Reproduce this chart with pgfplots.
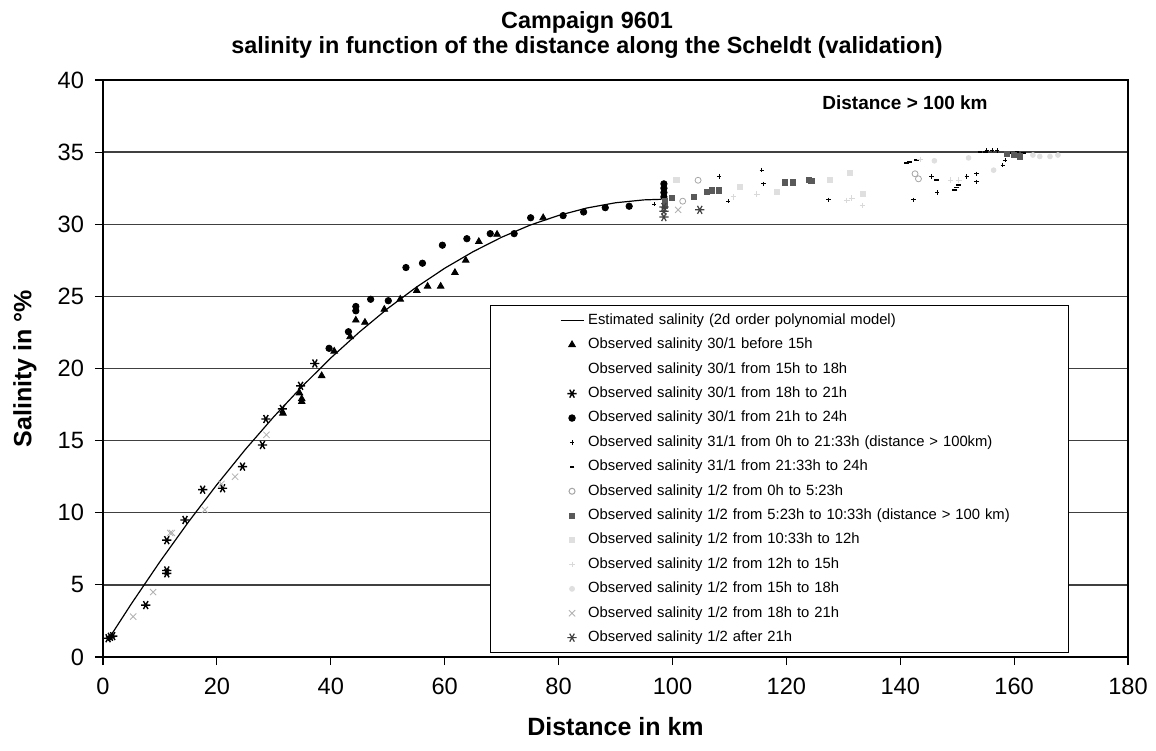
\documentclass[border=0pt]{standalone}
\usepackage{fontspec}
\setmainfont{Liberation Sans}
\usepackage{pgfplots}
\pgfplotsset{compat=1.18}
\pgfplotsset{
  lineleg/.style={legend image code/.code={\path[draw=none, fill=none] (-23pt,0pt) -- (0pt,0pt);
    \draw[##1] (0pt,0pt) -- (11.5pt,0pt);}},
  markleg/.style={legend image code/.code={\path[draw=none, fill=none] (-23pt,0pt) -- (11.5pt,0pt);
    \draw[##1] plot[only marks] coordinates {(5.75pt,0pt)};}},
}
\begin{document}
\begin{tikzpicture}
\useasboundingbox (0pt,0pt) rectangle (578pt,-375pt);
\begin{axis}[
  at={(51.5pt,-328.5pt)}, anchor=south west,
  scale only axis, width=512.5pt, height=288.5pt,
  xmin=0, xmax=180, ymin=0, ymax=40,
  xtick={0,20,...,180}, ytick={0,5,...,40},
  tick align=outside, major tick length=4pt,
  xtick pos=left, ytick pos=left,
  ymajorgrids, grid style={black!75, line width=0.7pt},
  axis line style={black, line width=0.6pt},
  tick style={black, line width=0.6pt},
  /pgf/number format/assume math mode=true,
  tick label style={font=\fontsize{11.8}{12}\selectfont},
  xticklabel style={yshift=-3pt},
  yticklabel style={xshift=-2pt},
  xlabel={Distance in km},
  ylabel={Salinity in °\%},
  every axis x label/.style={at={(axis description cs:0.5,-0.1213)}, anchor=center,
    font=\bfseries\fontsize{12.5}{14}\selectfont},
  every axis y label/.style={at={(axis description cs:-0.0761,0.5)}, rotate=90, anchor=center,
    font=\bfseries\fontsize{12.5}{14}\selectfont},
  legend style={at={(0.3776,0.610)}, anchor=north west, draw=black, line width=0.5pt,
    font=\fontsize{7.4}{8}\selectfont, inner xsep=12pt, inner ysep=3.4pt, row sep=4.1pt,
    nodes={text width=226pt, align=left, inner xsep=2pt, inner ysep=0.5pt, text height=5.5pt, text depth=1.6pt}},
  legend cell align=left,
  markleg,
]
% fitted curve
\addplot[black, line width=0.6pt, mark=none, lineleg] coordinates {
(1,1.26) (5,3.70) (10,6.61) (15,9.36) (20,11.95) (25,14.39) (30,16.66) (35,18.77)
(40,20.73) (45,22.52) (50,24.16) (55,25.63) (60,26.95) (65,28.10) (70,29.10)
(75,29.94) (80,30.61) (85,31.13) (90,31.49) (95,31.69) (98,31.73)
};
\addlegendentry{Estimated salinity (2d order polynomial model)}
% 30/1 before 15h
\addplot[only marks, mark=triangle*, mark size=1.9pt, black] coordinates {
(31.6,16.9) (34.5,18.3) (34.9,17.7) (34.9,17.9) (38.4,19.5) (40.6,21.2) (43.4,22.2)
(44.4,23.35) (46.0,23.2) (49.4,24.1) (52.2,24.8) (55.1,25.4) (57.0,25.7) (59.3,25.7)
(61.8,26.65) (63.7,27.5) (66.0,28.8) (69.2,29.3) (77.3,30.45)
};
\addlegendentry{Observed salinity 30/1 before 15h}
\addlegendimage{only marks, mark=*, mark size=1.2pt, white}
\addlegendentry{Observed salinity 30/1 from 15h to 18h}
% 30/1 18h-21h
\addplot[only marks, mark=asterisk, mark size=2.3pt, mark options={rotate=90, line width=0.7pt}, black] coordinates {
(0.9,1.3) (1.3,1.4) (1.7,1.45) (7.5,3.6) (11.2,5.8) (11.2,6.0) (11.2,8.1) (14.4,9.5)
(17.5,11.6) (21.0,11.7) (24.5,13.2) (28.0,14.7) (28.6,16.5) (31.5,17.2) (34.7,18.8) (37.2,20.35)
};
\addlegendentry{Observed salinity 30/1 from 18h to 21h}
% 30/1 21h-24h
\addplot[only marks, mark=*, mark size=1.6pt, black] coordinates {
(39.7,21.4) (43.1,22.55) (44.4,24.3) (44.4,24.0) (47.0,24.8) (50.1,24.7) (53.2,27.0)
(56.1,27.3) (59.6,28.55) (63.9,29.0) (68.0,29.35) (72.2,29.35) (75.1,30.45) (80.8,30.6)
(84.4,30.85) (88.2,31.15) (92.4,31.25) (98.5,32.8) (98.5,32.5) (98.5,32.2) (98.5,31.9)
};
\addlegendentry{Observed salinity 30/1 from 21h to 24h}
% 31/1 0h-21:33h
\addplot[only marks, mark=+, mark size=1.1pt, black] coordinates {
(96.8,31.4) (108.2,33.3) (109.8,31.6) (115.7,33.75) (116.0,32.8) (127.4,31.7) (142.3,31.7)
(145.5,33.3) (146.5,32.2) (151.7,33.3) (153.4,33.5) (153.4,32.95) (158.0,34.1) (158.4,34.45)
(155.2,35.1) (156.1,35.15) (157.0,35.1)
};
\addlegendentry{Observed salinity 31/1 from 0h to 21:33h (distance > 100km)}
% 31/1 21:33h-24h
\addplot[only marks, mark=-, mark size=1.2pt, mark options={line width=0.9pt}, black] coordinates {
(141.1,34.25) (141.6,34.3) (142.9,34.45) (146.3,33.05) (149.6,32.4) (149.9,32.55) (150.2,32.7)
(154.0,35.0) (155.0,35.0) (159.5,34.95) (160.5,35.0) (161.6,34.95)
};
\addlegendentry{Observed salinity 31/1 from 21:33h to 24h}
% 1/2 0h-5:23h
\addplot[only marks, mark=o, mark size=1.5pt, gray!70] coordinates {
(101.8,31.6) (142.6,33.5) (143.2,33.15) (104.5,33.05)
};
\addlegendentry{Observed salinity 1/2 from 0h to 5:23h}
% 1/2 5:23h-10:33h
\addplot[only marks, mark=square*, mark size=1.3pt, black!65] coordinates {
(98.7,31.6) (98.7,31.3) (99.9,31.8) (103.7,31.9) (106.0,32.25) (106.9,32.35) (108.1,32.35)
(119.8,32.9) (121.2,32.9) (123.9,33.05) (124.4,33.0) (158.7,34.9) (159.9,34.8) (161.0,34.7)
};
\addlegendentry{Observed salinity 1/2 from 5:23h to 10:33h (distance > 100 km)}
% 1/2 10:33h-12h
\addplot[only marks, mark=square*, mark size=1.3pt, gray!25] coordinates {
(100.7,33.05) (111.9,32.6) (118.3,32.25) (127.7,33.05) (131.2,33.55) (133.4,32.1)
};
\addlegendentry{Observed salinity 1/2 from 10:33h to 12h}
% 1/2 12h-15h
\addplot[only marks, mark=+, mark size=1.4pt, gray!30] coordinates {
(110.7,31.9) (114.8,32.1) (130.6,31.65) (131.5,31.8) (133.4,31.3) (143.5,34.5) (148.8,33.05) (150.3,33.05)
};
\addlegendentry{Observed salinity 1/2 from 12h to 15h}
% 1/2 15h-18h
\addplot[only marks, mark=*, mark size=1.2pt, gray!25] coordinates {
(146.0,34.4) (152.0,34.6) (156.4,33.75) (163.3,34.8) (164.5,34.7) (166.3,34.7) (167.7,34.8)
};
\addlegendentry{Observed salinity 1/2 from 15h to 18h}
% 1/2 18h-21h
\addplot[only marks, mark=x, mark size=2.2pt, gray!60] coordinates {
(5.3,2.8) (8.8,4.5) (11.8,8.6) (12.1,8.6) (17.9,10.2) (20.8,12.0) (23.2,12.5) (28.7,15.4) (101.0,31.0)
};
\addlegendentry{Observed salinity 1/2 from 18h to 21h}
% 1/2 after 21h
\addplot[only marks, mark=asterisk, mark size=2.3pt, mark options={rotate=90, line width=0.6pt}, black!75] coordinates {
(98.5,30.5) (98.5,30.9) (98.5,31.2) (104.8,31.0)
};
\addlegendentry{Observed salinity 1/2 after 21h}
\end{axis}
\node[font=\bfseries\fontsize{11.7}{13}\selectfont] at (293.5pt,-11pt) {Campaign 9601};
\node[font=\bfseries\fontsize{11.7}{13}\selectfont] at (293.5pt,-23.5pt) {salinity in function of the distance along the Scheldt (validation)};
\node[font=\bfseries\fontsize{9.5}{11}\selectfont] at (452.5pt,-51.5pt) {Distance > 100 km};
\end{tikzpicture}
\end{document}
